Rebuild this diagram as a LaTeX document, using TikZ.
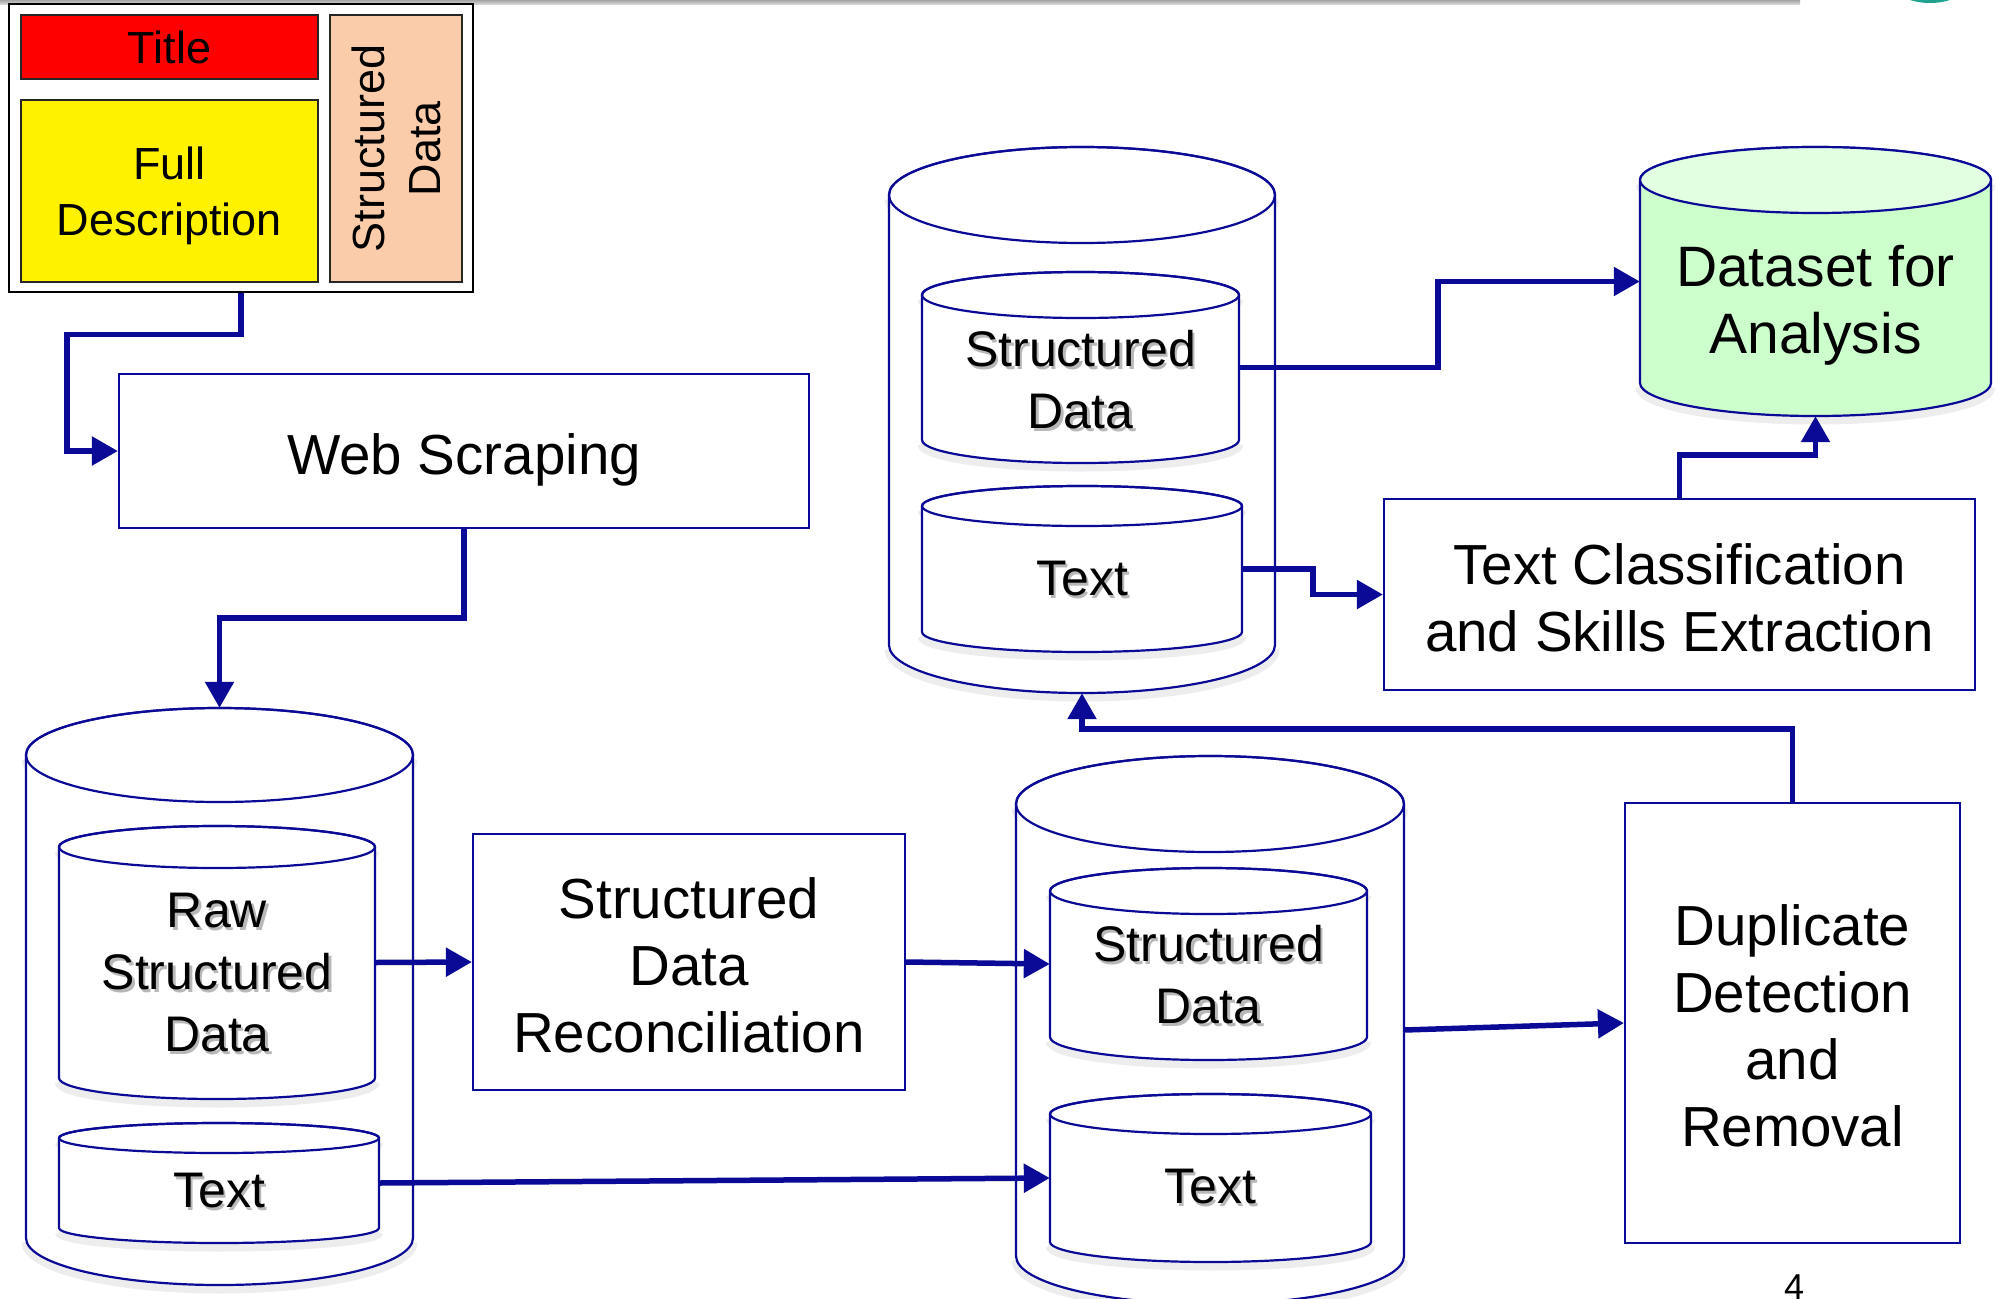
\documentclass[tikz,border=0pt]{standalone}
\usepackage{fontspec}
\setmainfont{Liberation Sans}
\usetikzlibrary{arrows.meta,fit,calc}

\definecolor{flowblue}{RGB}{10,10,150}
\definecolor{peach}{RGB}{250,204,170}
\definecolor{mint}{RGB}{204,255,204}
\definecolor{mintlight}{RGB}{226,255,226}
\definecolor{logoteal}{RGB}{32,163,142}

% text with a soft drop shadow, one line at a time
\newcommand{\shd}[1]{\leavevmode\rlap{\hspace{2.5pt}\raisebox{-3pt}{\textcolor{black!28}{#1}}}#1}

% database drum: name, left x, right x, top-ellipse centre y, bottom centre y, y radius, fill
\newcommand{\drum}[7]{%
  \pgfmathsetmacro{\dxc}{(#2+#3)/2}%
  \pgfmathsetmacro{\drx}{(#3-#2)/2}%
  \draw[drumglow] (#2,#5) arc[start angle=180,end angle=0,x radius=\drx,y radius=#6];
  \draw[drumglow] (#2,#4) arc[start angle=180,end angle=0,x radius=\drx,y radius=#6];
  \filldraw[drumline, fill=#7] (#2,#4) arc[start angle=180,end angle=360,x radius=\drx,y radius=#6]
     -- (#3,#5) arc[start angle=0,end angle=180,x radius=\drx,y radius=#6] -- cycle;
  \node[fit={(#2,#4-#6) (#3,#5+#6)}, inner sep=0pt] (#1) {};
}

\begin{document}
\begin{tikzpicture}[x=1pt,y=-1pt,
  drumline/.style={draw=flowblue, line width=2.2pt},
  drumglow/.style={draw=black!7, line width=9pt, yshift=-4pt},
  box/.style={draw=flowblue, line width=2.2pt, fill=white, inner sep=0pt},
  boxtext/.style={align=center, inner sep=0pt, font=\fontsize{56.5}{67}\selectfont},
  conn/.style={draw=flowblue, line width=5.5pt, -{Triangle[length=26pt,width=28pt]}},
  drumtext/.style={align=center, inner sep=0pt, font=\fontsize{50}{62}\selectfont},
  srcbox/.style={draw=black!85, line width=2pt, inner sep=0pt, align=center,
                 font=\fontsize{45}{56}\selectfont}]

\useasboundingbox (0,0) rectangle (1999,1298);
\clip (0,0) rectangle (1999,1298);
\fill[white] (0,0) rectangle (1999,1298);

% slide header strip and logo edge
\shade[top color=black!35, bottom color=black!12] (0,0) rectangle (1800,5);
\fill[logoteal] (1930,-22) ellipse[x radius=42, y radius=25];

% job advert source layout
\node[srcbox, draw=black, line width=2.5pt, fill=white, minimum width=464pt, minimum height=288pt] (src) at (241,148) {};
\node[srcbox, fill=red, minimum width=297pt, minimum height=64pt] (ttl) at (169.5,47) {Title};
\node[srcbox, fill=yellow, minimum width=297pt, minimum height=182pt] (fdesc) at (169.5,191) {};
\node[srcbox, draw=none] (fdesclbl) at (169.5,196) {Full\\Description};
\node[srcbox, fill=peach, rotate=90, minimum width=267pt, minimum height=132pt] (sdat) at (396,148.5) {Structured\\Data};

% processing steps
\node[box, minimum width=690pt, minimum height=154pt] (ws) at (464,451) {};
\node[boxtext] (wslbl) at (464,460) {Web Scraping};
\node[box, minimum width=432pt, minimum height=256pt] (rec) at (689,962) {};
\node[boxtext] (reclbl) at (689,965) {Structured\\Data\\Reconciliation};
\node[box, minimum width=335pt, minimum height=440pt] (dup) at (1792.5,1023) {};
\node[boxtext] (duplbl) at (1792.5,1026) {Duplicate\\Detection\\and\\Removal};
\node[box, minimum width=591pt, minimum height=191pt] (tc) at (1679.5,594.5) {};
\node[boxtext] (tclbl) at (1679.5,597.5) {Text Classification\\and Skills Extraction};

% raw store
\drum{c1}{26}{413}{755}{1238}{47}{white}
\drum{raw}{59}{375}{847}{1078}{21}{white}
\drum{txa}{59}{379}{1138}{1228}{15}{white}
\node[drumtext] (rawlbl) at (217,974) {\shd{Raw}\\\shd{Structured}\\\shd{Data}};
\node[drumtext] (txalbl) at (219,1192) {\shd{Text}};

% reconciled store
\drum{c2}{1016}{1404}{804}{1256}{48}{white}
\drum{sdb}{1050}{1367}{891}{1037}{23}{white}
\drum{txb}{1050}{1371}{1114}{1242}{20}{white}
\node[drumtext] (sdblbl) at (1208.5,976) {\shd{Structured}\\\shd{Data}};
\node[drumtext] (txblbl) at (1210,1188) {\shd{Text}};

% de-duplicated store
\drum{c3}{889}{1275}{195}{645}{48}{white}
\drum{sdc}{922}{1239}{295}{440}{23}{white}
\drum{txc}{922}{1242}{506}{632}{20}{white}
\node[drumtext] (sdclbl) at (1080.5,381) {\shd{Structured}\\\shd{Data}};
\node[drumtext] (txclbl) at (1082,580) {\shd{Text}};

% final dataset
\drum{c4}{1640}{1991}{180}{383}{33}{mint}
\fill[mintlight] (1815.5,180) ellipse[x radius=175.5, y radius=33];
\draw[drumline] (1815.5,180) ellipse[x radius=175.5, y radius=33];
\node[drumtext, font=\fontsize{57}{67}\selectfont] (c4lbl) at (1815.5,305) {Dataset for\\Analysis};

% inner top ellipses drawn over the drum bodies
\foreach \cx/\cy/\rx/\ry in {219.5/755/193.5/47, 217/847/158/21, 219/1138/160/15,
                             1210/804/194/48, 1208.5/891/158.5/23, 1210.5/1114/160.5/20,
                             1082/195/193/48, 1080.5/295/158.5/23, 1082/506/160/20}
  \draw[drumline] (\cx,\cy) ellipse[x radius=\rx, y radius=\ry];

% flow
\draw[conn] (src.south) -- ++(0,41) -| ($(ws.west)+(-51,0)$) -- (ws.west);
\draw[conn] (ws.south) -- ++(0,89) -| (c1.north);
\draw[conn] (raw.east) -- (rec.west);
\draw[conn] (rec.east) -- (sdb.west);
\draw[conn] (txa.east) -- (txb.west);
\draw[conn] (c2.east) -- (dup.west);
\draw[conn] (dup.north) -- ++(0,-73) -| (c3.south);
\draw[conn] (sdc.east) -- ++(199,0) |- (c4.west);
\draw[conn] (txc.east) -- ++(71,0) |- (tc.west);
\draw[conn] (tc.north) -- ++(0,-43) -| (c4.south);

% slide number
\node[anchor=north, inner sep=0pt, font=\fontsize{36}{40}\selectfont] (pgno) at (1794,1275) {4};
\end{tikzpicture}
\end{document}
